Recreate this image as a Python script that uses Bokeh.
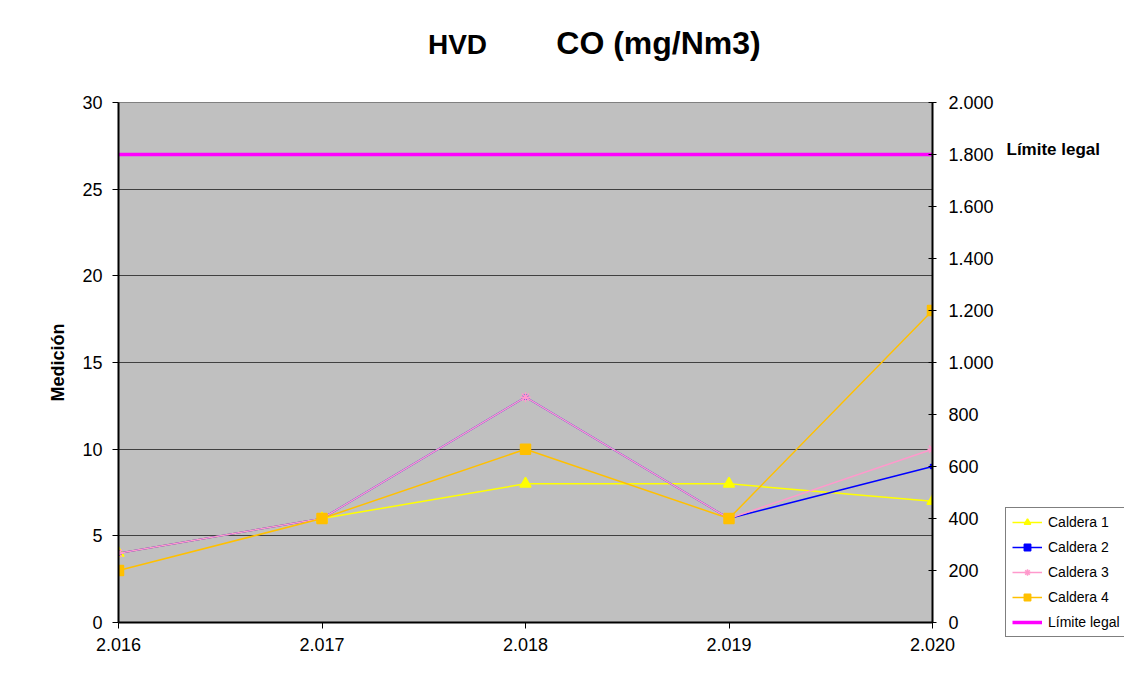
from bokeh.plotting import figure
from bokeh.models import (Range1d, LinearAxis, FixedTicker, CustomJSTickFormatter,
                          Legend, LegendItem, Label)
from bokeh.layouts import column, row
from bokeh.embed import file_html
from bokeh.resources import INLINE

# ---- data ----
years = [2016, 2017, 2018, 2019, 2020]
caldera1 = [4, 6, 8, 8, 7]
caldera2 = [4, 6, 13, 6, 9]
caldera3 = [4, 6, 13, 6, 10]
caldera4 = [3, 6, 10, 6, 18]
limite = [1800, 1800, 1800, 1800, 1800]   # right axis (0-2000)

left_ticks = [0, 5, 10, 15, 20, 25, 30]
right_ticks = [0, 200, 400, 600, 800, 1000, 1200, 1400, 1600, 1800, 2000]
series_names = ["Caldera 1", "Caldera 2", "Caldera 3", "Caldera 4", "Límite legal"]

FONT = "Liberation Sans"
TOTAL_W, TOTAL_H = 1124, 672
TOP_H = 90
MAIN_W = 1000

# ---------------- title strip ----------------
top = figure(width=TOTAL_W, height=TOP_H, x_range=Range1d(0, TOTAL_W), y_range=Range1d(TOP_H, 0),
             output_backend="svg", toolbar_location=None, x_axis_type=None, y_axis_type=None,
             min_border=0, outline_line_color=None)
top.frame_align = False
top.grid.visible = False
top.background_fill_color = "white"
top.border_fill_color = "white"
top.add_layout(Label(x=457, y=44, text="HVD", text_align="center", text_baseline="alphabetic",
                     text_font=FONT, text_font_style="bold", text_font_size="28px",
                     text_color="black"))
top.add_layout(Label(x=658, y=42, text="CO (mg/Nm3)", text_align="center",
                     text_baseline="alphabetic", text_font=FONT, text_font_style="bold",
                     text_font_size="32px", text_color="black"))

# ---------------- main chart ----------------
p = figure(width=MAIN_W, height=TOTAL_H - TOP_H, x_range=Range1d(2016, 2020), y_range=Range1d(0, 30),
           output_backend="svg", toolbar_location=None,
           min_border_left=118, min_border_right=68, min_border_top=12, min_border_bottom=50)
p.extra_y_ranges = {"right": Range1d(0, 2000)}

p.background_fill_color = "#C0C0C0"
p.border_fill_color = "white"
p.outline_line_color = "#808080"
p.outline_line_width = 1

fmt = CustomJSTickFormatter(code="""
var s = Math.round(tick).toString();
return s.replace(/\\B(?=(\\d{3})+(?!\\d))/g, '.');
""")

xa = p.xaxis[0]
xa.ticker = FixedTicker(ticks=years)
xa.formatter = fmt
xa.axis_line_width = 2
xa.axis_line_color = "black"
xa.major_tick_out = 6
xa.major_tick_in = 0
xa.minor_tick_line_color = None
xa.major_label_standoff = 9
xa.major_label_text_font = FONT
xa.major_label_text_font_size = "18px"
xa.major_label_text_color = "black"

ya = p.yaxis[0]
ya.ticker = FixedTicker(ticks=left_ticks)
ya.axis_line_width = 2
ya.axis_line_color = "black"
ya.major_tick_out = 6
ya.major_tick_in = 0
ya.minor_tick_line_color = None
ya.major_label_standoff = 10
ya.major_label_text_font = FONT
ya.major_label_text_font_size = "18px"
ya.major_label_text_color = "black"
ya.axis_label = "Medición"
ya.axis_label_text_font = FONT
ya.axis_label_text_font_style = "bold"
ya.axis_label_text_font_size = "18px"
ya.axis_label_text_color = "black"
ya.axis_label_standoff = 11

ra = LinearAxis(y_range_name="right")
ra.ticker = FixedTicker(ticks=right_ticks)
ra.formatter = fmt
ra.axis_line_width = 2
ra.axis_line_color = "black"
ra.major_tick_out = 4
ra.major_tick_in = 4
ra.minor_tick_line_color = None
ra.major_label_standoff = 12
ra.major_label_text_font = FONT
ra.major_label_text_font_size = "18px"
ra.major_label_text_color = "black"
p.add_layout(ra, "right")

p.xgrid.visible = False
p.ygrid.ticker = FixedTicker(ticks=left_ticks[1:-1])
p.ygrid.grid_line_color = "#404040"
p.ygrid.grid_line_width = 1

STY = [
    dict(color="#FFFF00", marker="triangle", size=11),
    dict(color="#0000FF", marker="square", size=4),
    dict(color="#FF99CC", marker="asterisk", size=10),
    dict(color="#FFC000", marker="square", size=10),
]
for vals, st in zip([caldera1, caldera2, caldera3, caldera4], STY):
    p.line(years, vals, line_color=st["color"], line_width=1.5)
    p.scatter(years, vals, marker=st["marker"], size=st["size"], fill_color=st["color"],
              line_color=st["color"], line_width=1.5)
p.line(years, limite, y_range_name="right", line_color="#FF00FF", line_width=3.5)

# ---------------- right strip: legend + limit label ----------------
side_h = TOTAL_H - TOP_H
side = figure(width=TOTAL_W - MAIN_W, height=side_h,
              x_range=Range1d(MAIN_W, TOTAL_W), y_range=Range1d(TOTAL_H, TOP_H),
              output_backend="svg", toolbar_location=None, x_axis_type=None, y_axis_type=None,
              min_border=0, outline_line_color=None)
side.frame_align = False
side.grid.visible = False
side.background_fill_color = "white"
side.border_fill_color = "white"

# legend proxies: lying outside this strip's visible range
items = []
for name, vals, st in zip(series_names[:4], [caldera1, caldera2, caldera3, caldera4], STY):
    lr = side.line(years[:2], vals[:2], line_color=st["color"], line_width=1.5)
    sr = side.scatter(years[:1], vals[:1], marker=st["marker"], size=st["size"],
                      fill_color=st["color"], line_color=st["color"], line_width=1.5)
    items.append(LegendItem(label=name, renderers=[lr, sr]))
lr5 = side.line(years[:2], limite[:2], line_color="#FF00FF", line_width=3.5)
items.append(LegendItem(label=series_names[4], renderers=[lr5]))

legend = Legend(items=items, location=(5, 35))
legend.border_line_color = "black"
legend.border_line_width = 1
legend.background_fill_color = "white"
legend.background_fill_alpha = 1
legend.label_text_font = FONT
legend.label_text_font_size = "14px"
legend.label_text_color = "black"
legend.glyph_width = 30
legend.glyph_height = 16
legend.label_height = 16
legend.label_standoff = 6
legend.spacing = 9
legend.padding = 6
legend.margin = 0
side.add_layout(legend, "center")

side.add_layout(Label(x=1006, y=149, text="Límite legal", text_align="left",
                      text_baseline="alphabetic", text_font=FONT, text_font_style="bold",
                      text_font_size="17px", text_color="black"))

layout = column(top, row(p, side))
open("out.html", "w").write(file_html(layout, INLINE))
